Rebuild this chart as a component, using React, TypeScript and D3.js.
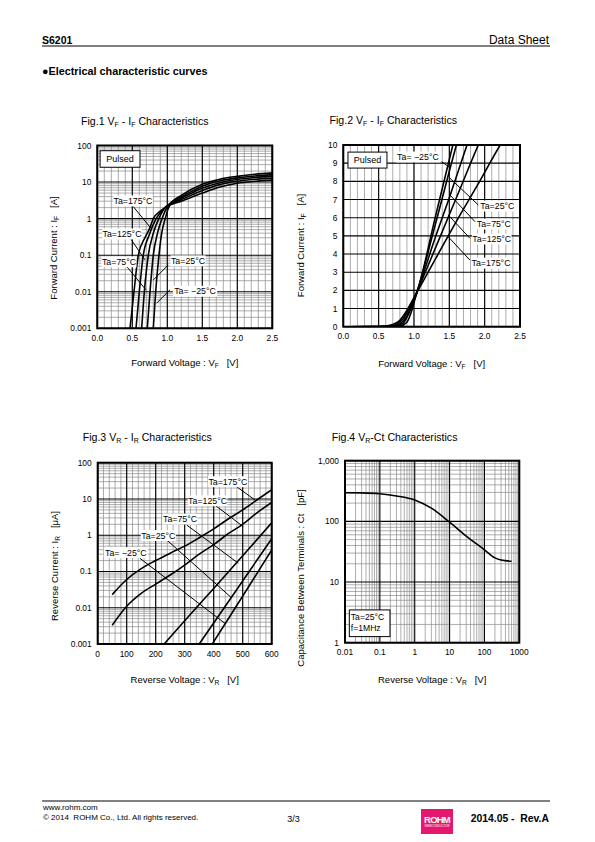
import React from 'react';
import * as d3 from 'd3';

const FONT = '"Liberation Sans", Arial, Helvetica, sans-serif';

// ---------------- Fig.1  VF - IF (log) ----------------
const fig1Curves: [number, number][][] = [
  // Ta=175
  [[0.467, 0.001], [0.524, 0.01], [0.586, 0.1], [0.68, 0.3], [0.75, 0.55], [0.80, 1.0], [0.9, 1.6], [1.0, 2.2], [1.2, 3.0], [1.5, 5.0], [1.75, 7.3], [2.0, 9.3], [2.25, 10.5], [2.5, 11.3]],
  // Ta=125
  [[0.553, 0.001], [0.60, 0.01], [0.657, 0.1], [0.74, 0.35], [0.84, 1.0], [0.93, 1.7], [1.02, 2.4], [1.2, 3.3], [1.5, 5.9], [1.75, 8.5], [2.0, 10.5], [2.25, 11.9], [2.5, 12.8]],
  // Ta=75
  [[0.634, 0.001], [0.672, 0.01], [0.729, 0.1], [0.80, 0.4], [0.88, 1.0], [0.95, 1.8], [1.03, 2.5], [1.2, 3.6], [1.5, 6.8], [1.75, 9.6], [2.0, 11.8], [2.25, 13.3], [2.5, 14.5]],
  // Ta=25
  [[0.714, 0.001], [0.753, 0.01], [0.80, 0.1], [0.86, 0.4], [0.925, 1.0], [0.98, 1.8], [1.04, 2.6], [1.2, 3.9], [1.5, 7.7], [1.75, 10.8], [2.0, 13.0], [2.25, 14.7], [2.5, 16.0]],
  // Ta=-25
  [[0.80, 0.001], [0.834, 0.01], [0.881, 0.1], [0.92, 0.4], [0.97, 1.0], [1.01, 1.8], [1.05, 2.6], [1.2, 4.3], [1.5, 8.7], [1.75, 12.0], [2.0, 14.3], [2.25, 16.3], [2.5, 17.8]],
];
const fig1Labels = ['Ta=175°C', 'Ta=125°C', 'Ta=75°C', 'Ta=25°C', 'Ta= −25°C'];
const fig1LabelAt: [number, number][] = [[0.51, 3.05], [0.353, 0.38], [0.31, 0.066], [1.296, 0.07], [1.396, 0.0103]];
const fig1Pointers: [number, number][][] = [
  [[0.514, 2.13], [0.765, 0.55]],
  [[0.467, 0.30], [0.68, 0.075]],
  [[0.42, 0.049], [0.70, 0.011]],
  [[1.014, 0.054], [0.80, 0.021]],
  [[1.039, 0.0113], [0.849, 0.0049]],
];
const fig1XTicks = [0, 0.5, 1.0, 1.5, 2.0, 2.5];
const fig1YTicks = [0.001, 0.01, 0.1, 1, 10, 100];
const fig1YTickLabels = ['0.001', '0.01', '0.1', '1', '10', '100'];

// ---------------- Fig.2  VF - IF (linear) ----------------
const fig2Curves: [number, number][][] = [
  // Ta=175
  [[0.07, 0], [0.5, 0.003], [0.6, 0.03], [0.7, 0.12], [0.8, 0.35], [0.9, 0.9], [1.0, 1.6], [1.05, 1.95], [1.3, 3.7], [1.6, 5.8], [1.9, 7.8], [2.22, 10], [2.3, 10.5]],
  // Ta=125
  [[0.07, 0], [0.55, 0.003], [0.65, 0.03], [0.75, 0.13], [0.85, 0.45], [0.95, 1.15], [1.05, 2.0], [1.3, 4.3], [1.6, 7.1], [1.91, 10], [2.0, 10.8]],
  // Ta=75
  [[0.07, 0], [0.6, 0.003], [0.7, 0.03], [0.8, 0.15], [0.9, 0.6], [0.98, 1.3], [1.05, 2.0], [1.3, 4.9], [1.5, 7.1], [1.75, 10], [1.8, 10.6]],
  // Ta=25
  [[0.07, 0], [0.65, 0.003], [0.75, 0.03], [0.85, 0.2], [0.93, 0.75], [1.0, 1.4], [1.05, 2.0], [1.3, 5.6], [1.6, 10], [1.65, 10.7]],
  // Ta=-25
  [[0.07, 0], [0.7, 0.003], [0.8, 0.03], [0.9, 0.25], [0.97, 0.9], [1.02, 1.6], [1.06, 2.1], [1.3, 6.0], [1.55, 10], [1.6, 10.8]],
];
const fig2Labels = ['Ta= −25°C', 'Ta=25°C', 'Ta=75°C', 'Ta=125°C', 'Ta=175°C'];
const fig2LabelAt: [number, number][] = [[1.056, 9.34], [2.18, 6.64], [2.13, 5.65], [2.1, 4.83], [2.09, 3.5]];
const fig2Pointers: [number, number][][] = [
  [[1.392, 9.08], [1.51, 8.75]],
  [[1.91, 6.70], [1.509, 8.17]],
  [[1.863, 5.78], [1.509, 7.25]],
  [[1.79, 4.87], [1.485, 6.15]],
  [[1.79, 3.67], [1.485, 4.95]],
];
const fig2XTicks = [0, 0.5, 1.0, 1.5, 2.0, 2.5];
const fig2YTicks = [0, 1, 2, 3, 4, 5, 6, 7, 8, 9, 10];

// ---------------- Fig.3  VR - IR ----------------
const fig3Curves: [number, number][][] = [
  // Ta=175
  [[50, 0.023], [100, 0.06], [150, 0.12], [200, 0.2], [250, 0.32], [300, 0.5], [350, 0.85], [400, 1.5], [450, 2.8], [500, 5], [550, 9.5], [600, 18]],
  // Ta=125
  [[50, 0.0033], [100, 0.011], [150, 0.025], [200, 0.045], [250, 0.08], [300, 0.15], [350, 0.3], [400, 0.55], [450, 1.1], [500, 2], [550, 4.2], [600, 8]],
  // Ta=75
  [[229, 0.001], [300, 0.0044], [400, 0.034], [500, 0.27], [600, 2.2]],
  // Ta=25
  [[350, 0.001], [400, 0.0038], [450, 0.0144], [500, 0.055], [550, 0.21], [600, 0.8]],
  // Ta=-25
  [[395, 0.001], [450, 0.0049], [500, 0.021], [550, 0.09], [600, 0.39]],
];
const fig3Labels = ['Ta=175°C', 'Ta=125°C', 'Ta=75°C', 'Ta=25°C', 'Ta= −25°C'];
const fig3LabelAt: [number, number][] = [[449, 29.9], [379, 8.9], [284, 2.8], [209, 0.98], [97, 0.333]];
const fig3Pointers: [number, number][][] = [
  [[479, 21.8], [542, 9.4]],
  [[404, 6.8], [502, 1.72]],
  [[307, 1.91], [485, 0.168]],
  [[238, 0.74], [461, 0.019]],
  [[146, 0.23], [439, 0.0037]],
];
const fig3XTicks = [0, 100, 200, 300, 400, 500, 600];
const fig3YTicks = [0.001, 0.01, 0.1, 1, 10, 100];
const fig3YTickLabels = ['0.001', '0.01', '0.1', '1', '10', '100'];

// ---------------- Fig.4  VR - Ct ----------------
const fig4Curve: [number, number][] = [
  [0.01, 297], [0.03, 295], [0.1, 285], [0.3, 262], [1, 225], [3, 165], [10, 97], [30, 57], [100, 34], [200, 25], [300, 23], [600, 22],
];
const fig4XTicks = [0.01, 0.1, 1, 10, 100, 1000];
const fig4XTickLabels = ['0.01', '0.1', '1', '10', '100', '1000'];
const fig4YTicks = [1, 10, 100, 1000];
const fig4YTickLabels = ['1', '10', '100', '1,000'];
const fig4Note = ['Ta=25°C', 'f=1MHz'];
const fig4NoteBox: [number, number][] = [[0.0133, 3.47], [0.195, 1.26]];

// ---------------- helpers ----------------
type Seg = [string, boolean];
const PRE = { whiteSpace: 'pre' as const };

function logMinor(lo: number, hi: number): number[] {
  const out: number[] = [];
  for (let d = lo; d < hi; d++) {
    for (let k = 2; k <= 9; k++) out.push(k * Math.pow(10, d));
  }
  return out;
}
function logMajor(lo: number, hi: number): number[] {
  const out: number[] = [];
  for (let d = lo; d <= hi; d++) out.push(Math.pow(10, d));
  return out;
}

function SegText({ segs, size, subSize, ...rest }: any) {
  const parts: any[] = [];
  let sub = false;
  segs.forEach((s: Seg, i: number) => {
    const [t, isSub] = s;
    let dy = 0;
    if (isSub && !sub) dy = 2;
    if (!isSub && sub) dy = -2;
    sub = isSub;
    parts.push(
      <tspan key={i} dy={dy} fontSize={isSub ? subSize : size}>{t}</tspan>
    );
  });
  return <text fontFamily={FONT} fontSize={size} style={PRE} {...rest}>{parts}</text>;
}

const ANN = 8.8;
function Label({ x, y, text, size = ANN }: { x: number; y: number; text: string; size?: number }) {
  const w = text.length * size * 0.52 + 3;
  return (
    <g>
      <rect x={x - w / 2} y={y - size * 0.62} width={w} height={size * 1.24} fill="#fff" />
      <text x={x} y={y + size * 0.35} textAnchor="middle" fontFamily={FONT} fontSize={size}>{text}</text>
    </g>
  );
}

interface PanelProps {
  id: string;
  xs: any;
  ys: any;
  xMinor: number[];
  xMajor: number[];
  yMinor: number[];
  yMajor: number[];
  xTicks: number[];
  xTickLabels: string[];
  yTicks: number[];
  yTickLabels: string[];
  curves: [number, number][][];
  title: Seg[];
  titleX: number;
  titleY: number;
  xTitle: Seg[];
  xTitleY: number;
  yTitle: Seg[];
  yTitleX: number;
  yTitleCY: number;
  children?: any;
}

function Panel(p: PanelProps) {
  const [x0, x1] = p.xs.range();
  const [y1, y0] = p.ys.range();
  const line = d3
    .line<[number, number]>()
    .x((d) => p.xs(d[0]))
    .y((d) => p.ys(d[1]))
    .curve(d3.curveMonotoneX);
  return (
    <g>
      <defs>
        <clipPath id={p.id}>
          <rect x={x0} y={y0} width={x1 - x0} height={y1 - y0} />
        </clipPath>
      </defs>
      <SegText segs={p.title} size={10.6} subSize={7} x={p.titleX} y={p.titleY} />
      <g stroke="#8a8a8a" strokeWidth={0.7}>
        {p.xMinor.map((v, i) => (
          <line key={'xm' + i} x1={p.xs(v)} x2={p.xs(v)} y1={y0} y2={y1} />
        ))}
        {p.yMinor.map((v, i) => (
          <line key={'ym' + i} x1={x0} x2={x1} y1={p.ys(v)} y2={p.ys(v)} />
        ))}
      </g>
      <g stroke="#000" strokeWidth={1.1}>
        {p.xMajor.map((v, i) => (
          <line key={'xM' + i} x1={p.xs(v)} x2={p.xs(v)} y1={y0} y2={y1} />
        ))}
        {p.yMajor.map((v, i) => (
          <line key={'yM' + i} x1={x0} x2={x1} y1={p.ys(v)} y2={p.ys(v)} />
        ))}
      </g>
      <g clipPath={`url(#${p.id})`} fill="none" stroke="#000" strokeWidth={1.6}>
        {p.curves.map((c, i) => (
          <path key={i} d={line(c) || ''} />
        ))}
      </g>
      {p.children}
      <rect x={x0} y={y0} width={x1 - x0} height={y1 - y0} fill="none" stroke="#000" strokeWidth={2} />
      <g fontFamily={FONT} fontSize={8.4}>
        {p.xTicks.map((v, i) => (
          <text key={'xt' + i} x={p.xs(v)} y={y1 + 12.5} textAnchor="middle">{p.xTickLabels[i]}</text>
        ))}
        {p.yTicks.map((v, i) => (
          <text key={'yt' + i} x={x0 - 6} y={p.ys(v) + 3} textAnchor="end">{p.yTickLabels[i]}</text>
        ))}
      </g>
      <SegText segs={p.xTitle} size={9.5} subSize={6.6} x={(x0 + x1) / 2} y={p.xTitleY} textAnchor="middle" />
      <SegText
        segs={p.yTitle}
        size={9.5}
        subSize={6.6}
        x={0}
        y={0}
        textAnchor="middle"
        transform={`translate(${p.yTitleX},${p.yTitleCY}) rotate(-90)`}
      />
    </g>
  );
}

function Annotations({ xs, ys, labels, at, pointers }: any) {
  return (
    <g>
      {pointers.map((pt: [number, number][], i: number) => (
        <line key={'p' + i} x1={xs(pt[0][0])} y1={ys(pt[0][1])} x2={xs(pt[1][0])} y2={ys(pt[1][1])} stroke="#000" strokeWidth={1} />
      ))}
      {labels.map((t: string, i: number) => (
        <Label key={'l' + i} x={xs(at[i][0])} y={ys(at[i][1])} text={t} />
      ))}
    </g>
  );
}

export default function App() {
  // scales
  const f1x = d3.scaleLinear().domain([0, 2.5]).range([97.3, 272.3]);
  const f1y = d3.scaleLog().domain([0.001, 100]).range([328.3, 145.5]);
  const f2x = d3.scaleLinear().domain([0, 2.5]).range([343.3, 520]);
  const f2y = d3.scaleLinear().domain([0, 10]).range([326.7, 145]);
  const f3x = d3.scaleLinear().domain([0, 600]).range([97.7, 271.7]);
  const f3y = d3.scaleLog().domain([0.001, 100]).range([644, 462.7]);
  const f4x = d3.scaleLog().domain([0.01, 1000]).range([345, 519.3]);
  const f4y = d3.scaleLog().domain([1, 1000]).range([642.7, 460.7]);

  const lin01 = d3.range(0, 26).map((i) => i / 10);
  const vfTitleX: Seg[] = [['Forward Voltage : V', false], ['F', true], ['   [V]', false]];
  const vfTitleY: Seg[] = [['Forward Current : I', false], ['F', true], ['   [A]', false]];

  return (
    <svg width={595} height={842} style={{ position: 'absolute', left: 0, top: 0, background: '#fff' }}>
      <rect x={0} y={0} width={595} height={842} fill="#fff" />
      {/* header */}
      <text x={42} y={44} fontFamily={FONT} fontSize={10.5} fontWeight="bold">S6201</text>
      <text x={549} y={44} fontFamily={FONT} fontSize={12} textAnchor="end">Data Sheet</text>
      <line x1={42} x2={550} y1={46} y2={46} stroke="#000" strokeWidth={1} />
      <text x={42} y={75} fontFamily={FONT} fontSize={10.8} fontWeight="bold">●Electrical characteristic curves</text>

      {/* Fig.1 */}
      <Panel
        id="c1"
        xs={f1x}
        ys={f1y}
        xMinor={lin01}
        xMajor={fig1XTicks}
        yMinor={logMinor(-3, 2)}
        yMajor={logMajor(-3, 2)}
        xTicks={fig1XTicks}
        xTickLabels={fig1XTicks.map((v) => v.toFixed(1))}
        yTicks={fig1YTicks}
        yTickLabels={fig1YTickLabels}
        curves={fig1Curves}
        title={[['Fig.1 V', false], ['F', true], [' - I', false], ['F', true], [' Characteristics', false]]}
        titleX={81}
        titleY={125}
        xTitle={vfTitleX}
        xTitleY={366}
        yTitle={vfTitleY}
        yTitleX={57}
        yTitleCY={248}
      >
        <Annotations xs={f1x} ys={f1y} labels={fig1Labels} at={fig1LabelAt} pointers={fig1Pointers} />
        <rect x={f1x(0.04)} y={f1y(72)} width={f1x(0.61) - f1x(0.04)} height={f1y(25.4) - f1y(72)} fill="#fff" stroke="#000" strokeWidth={1} />
        <text x={(f1x(0.04) + f1x(0.61)) / 2} y={(f1y(72) + f1y(25.4)) / 2 + 3.2} textAnchor="middle" fontFamily={FONT} fontSize={9}>Pulsed</text>
      </Panel>

      {/* Fig.2 */}
      <Panel
        id="c2"
        xs={f2x}
        ys={f2y}
        xMinor={lin01}
        xMajor={fig2XTicks}
        yMinor={[]}
        yMajor={fig2YTicks}
        xTicks={fig2XTicks}
        xTickLabels={fig2XTicks.map((v) => v.toFixed(1))}
        yTicks={fig2YTicks}
        yTickLabels={fig2YTicks.map((v) => String(v))}
        curves={fig2Curves}
        title={[['Fig.2 V', false], ['F', true], [' - I', false], ['F', true], [' Characteristics', false]]}
        titleX={329.5}
        titleY={124}
        xTitle={vfTitleX}
        xTitleY={367}
        yTitle={vfTitleY}
        yTitleX={304}
        yTitleCY={245.5}
      >
        <Annotations xs={f2x} ys={f2y} labels={fig2Labels} at={fig2LabelAt} pointers={fig2Pointers} />
        <rect x={f2x(0.066)} y={f2y(9.61)} width={f2x(0.618) - f2x(0.066)} height={f2y(8.73) - f2y(9.61)} fill="#fff" stroke="#000" strokeWidth={1} />
        <text x={(f2x(0.066) + f2x(0.618)) / 2} y={(f2y(9.61) + f2y(8.73)) / 2 + 3.2} textAnchor="middle" fontFamily={FONT} fontSize={9}>Pulsed</text>
      </Panel>

      {/* Fig.3 */}
      <Panel
        id="c3"
        xs={f3x}
        ys={f3y}
        xMinor={d3.range(0, 601, 20)}
        xMajor={fig3XTicks}
        yMinor={logMinor(-3, 2)}
        yMajor={logMajor(-3, 2)}
        xTicks={fig3XTicks}
        xTickLabels={fig3XTicks.map((v) => String(v))}
        yTicks={fig3YTicks}
        yTickLabels={fig3YTickLabels}
        curves={fig3Curves}
        title={[['Fig.3 V', false], ['R', true], [' - I', false], ['R', true], [' Characteristics', false]]}
        titleX={82.7}
        titleY={441}
        xTitle={[['Reverse Voltage : V', false], ['R', true], ['   [V]', false]]}
        xTitleY={683}
        yTitle={[['Reverse Current : I', false], ['R', true], ['   [μA]', false]]}
        yTitleX={58}
        yTitleCY={566}
      >
        <Annotations xs={f3x} ys={f3y} labels={fig3Labels} at={fig3LabelAt} pointers={fig3Pointers} />
      </Panel>

      {/* Fig.4 */}
      <Panel
        id="c4"
        xs={f4x}
        ys={f4y}
        xMinor={logMinor(-2, 3)}
        xMajor={logMajor(-2, 3)}
        yMinor={logMinor(0, 3)}
        yMajor={logMajor(0, 3)}
        xTicks={fig4XTicks}
        xTickLabels={fig4XTickLabels}
        yTicks={fig4YTicks}
        yTickLabels={fig4YTickLabels}
        curves={[fig4Curve]}
        title={[['Fig.4 V', false], ['R', true], ['-Ct Characteristics', false]]}
        titleX={331.7}
        titleY={441}
        xTitle={[['Reverse Voltage : V', false], ['R', true], ['   [V]', false]]}
        xTitleY={683}
        yTitle={[['Capacitance Between Terminals : Ct   [pF]', false]]}
        yTitleX={304}
        yTitleCY={578}
      >
        <rect
          x={f4x(fig4NoteBox[0][0])}
          y={f4y(fig4NoteBox[0][1])}
          width={f4x(fig4NoteBox[1][0]) - f4x(fig4NoteBox[0][0])}
          height={f4y(fig4NoteBox[1][1]) - f4y(fig4NoteBox[0][1])}
          fill="#fff"
          stroke="#000"
          strokeWidth={1}
        />
        {fig4Note.map((t, i) => (
          <text key={i} x={f4x(fig4NoteBox[0][0]) + 1.5} y={f4y(fig4NoteBox[0][1]) + 10.5 + i * 11} fontFamily={FONT} fontSize={8.6}>{t}</text>
        ))}
      </Panel>

      {/* footer */}
      <line x1={42} x2={550} y1={801} y2={801} stroke="#000" strokeWidth={1} />
      <text x={43} y={810} fontFamily={FONT} fontSize={8}>www.rohm.com</text>
      <text x={43} y={819.5} fontFamily={FONT} fontSize={8} style={PRE}>© 2014  ROHM Co., Ltd. All rights reserved.</text>
      <text x={293.5} y={822} fontFamily={FONT} fontSize={9} textAnchor="middle">3/3</text>
      <rect x={421} y={809} width={32} height={25} fill="#e5176e" />
      <text x={437} y={822.5} fontFamily={FONT} fontSize={9.5} fontWeight="bold" fill="#fff" textAnchor="middle" letterSpacing={-0.8}>ROHM</text>
      <text x={437} y={827} fontFamily={FONT} fontSize={2.8} fill="#fff" textAnchor="middle">SEMICONDUCTOR</text>
      <text x={549} y={822} fontFamily={FONT} fontSize={10.4} fontWeight="bold" textAnchor="end" style={PRE}>2014.05 -  Rev.A</text>
    </svg>
  );
}
